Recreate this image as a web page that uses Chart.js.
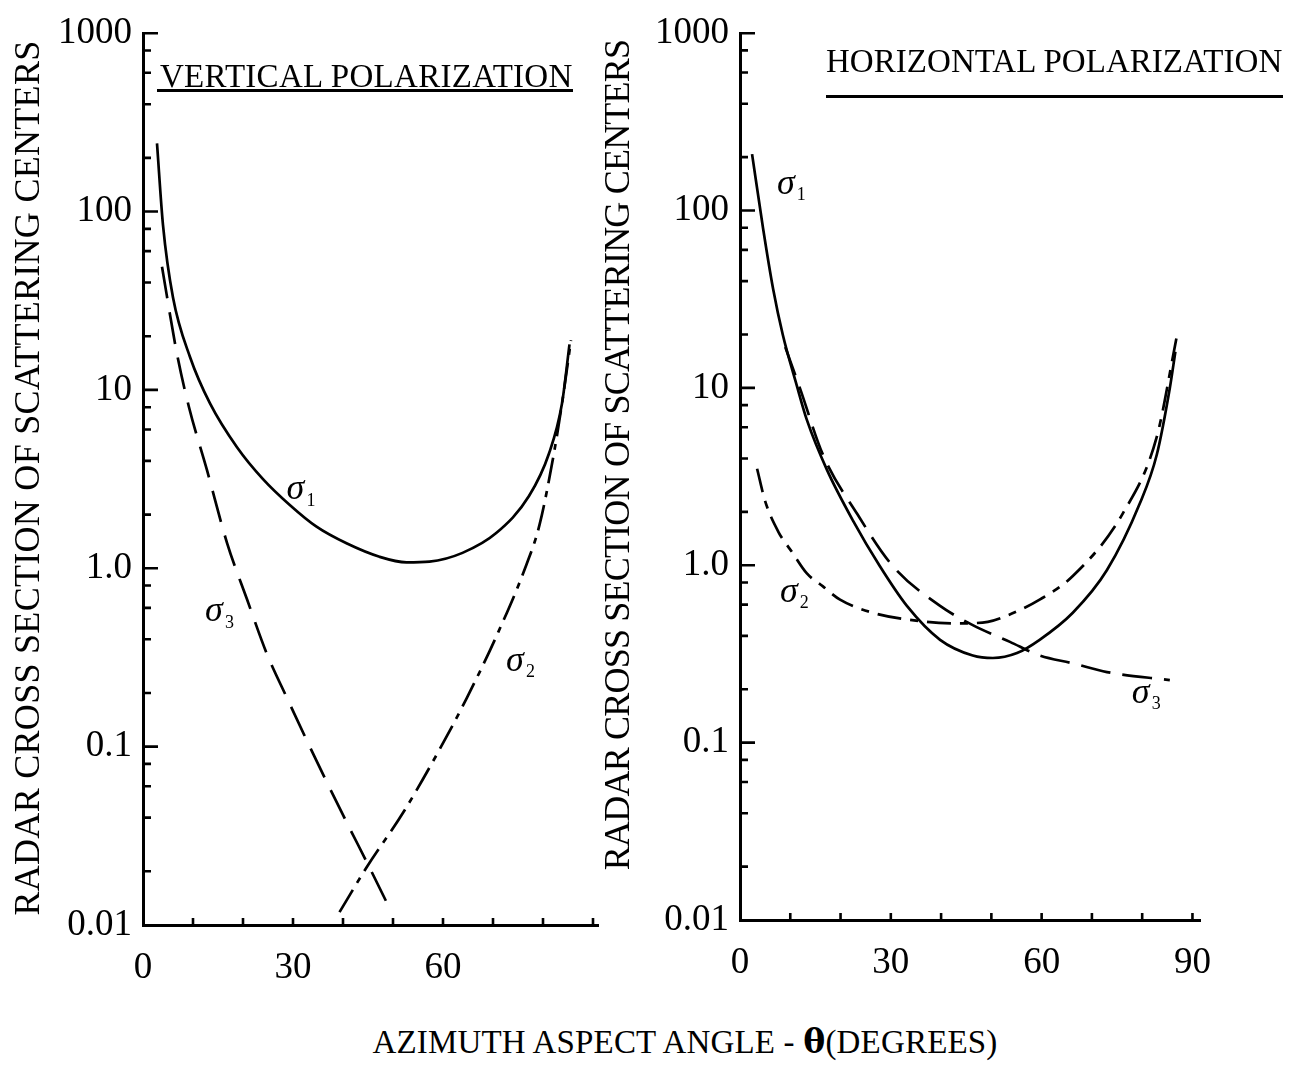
<!DOCTYPE html>
<html>
<head>
<meta charset="utf-8">
<script src="https://cdn.jsdelivr.net/npm/chart.js@4/dist/chart.umd.min.js"></script>
<style>
  html,body{margin:0;padding:0;background:#fff;}
  body{width:1293px;height:1066px;position:relative;overflow:hidden;}
  .box{position:absolute;}
  .txt{position:absolute;font-family:'Liberation Serif',serif;color:#000;white-space:nowrap;}
  .rule{position:absolute;background:#000;height:3px;}
</style>
</head>
<body>
<div class="box" style="left:0;top:0;width:640px;height:1000px"><canvas id="left"></canvas></div>
<div class="box" style="left:640px;top:0;width:653px;height:1000px"><canvas id="right"></canvas></div>

<div class="txt" style="left:160px;top:58px;font-size:33px;line-height:36px"><span class="fit" data-w="413">VERTICAL POLARIZATION</span></div>
<div class="rule" style="left:157px;top:89px;width:416px"></div>
<div class="txt" style="left:826px;top:43px;font-size:33px;line-height:36px"><span class="fit" data-w="456">HORIZONTAL POLARIZATION</span></div>
<div class="rule" style="left:826px;top:95px;width:457px"></div>

<div class="txt" style="left:-423px;top:458px;width:900px;height:40px;line-height:40px;text-align:center;font-size:36px;transform:rotate(-90deg)"><span class="fit" data-w="875">RADAR CROSS SECTION OF SCATTERING CENTERS</span></div>
<div class="txt" style="left:167px;top:435px;width:900px;height:40px;line-height:40px;text-align:center;font-size:36px;transform:rotate(-90deg)"><span class="fit" data-w="830">RADAR CROSS SECTION OF SCATTERING CENTERS</span></div>

<div class="txt" style="left:285px;top:1024px;width:800px;text-align:center;font-size:33px;line-height:36px"><span class="fit" data-w="625">AZIMUTH ASPECT ANGLE - <b style="font-family:'DejaVu Serif'">θ</b>(DEGREES)</span></div>

<script>
// ---------- data ----------
// Left panel: vertical polarization
const vS1x = [2.8, 4.0, 6.0, 9.4, 13.4, 18.8, 24.0, 29.3, 34.7, 40.7, 47.3, 52.7, 57.3, 63.9, 70.7, 77.2, 81.2, 83.8, 85.3];
const vS1y = [241, 84, 33, 15.3, 8.4, 4.77, 3.16, 2.27, 1.71, 1.38, 1.16, 1.08, 1.09, 1.22, 1.58, 2.54, 4.4, 8.4, 18];
const vS2x = [39.3, 44.7, 52.1, 59.1, 64.7, 70.7, 76.7, 79.3, 82.3, 83.8, 85.6];
const vS2y = [0.0118, 0.021, 0.043, 0.094, 0.186, 0.417, 1.05, 1.75, 4.6, 8.4, 19];
const vS3x = [3.8, 6.8, 9.2, 12.8, 16.8, 20.8, 24.8, 28.7, 35, 41.3, 44.7, 49.7];
const vS3y = [49, 15.9, 8.0, 3.55, 1.39, 0.67, 0.33, 0.19, 0.08, 0.035, 0.0227, 0.0118];
// Right panel: horizontal polarization
const hS1x = [2.4, 4.6, 6.6, 8.5, 11.3, 13.3, 17.3, 22.5, 27.8, 33.2, 39.8, 46.3, 50.3, 55.1, 59.6, 66.2, 73.0, 79.5, 82.9, 85.5, 86.6];
const hS1y = [208, 79, 36, 20, 10.3, 6.6, 3.45, 1.78, 0.99, 0.59, 0.38, 0.31, 0.30, 0.32, 0.38, 0.54, 0.94, 2.22, 4.2, 10, 16];
const hS2x = [3.4, 5.0, 7.6, 10.5, 13.3, 16.5, 19.9, 26.4, 37.2, 43.1, 49.3, 53.1, 59.6, 66.2, 76.1, 82.9, 86.8];
const hS2y = [3.5, 2.3, 1.55, 1.17, 0.90, 0.76, 0.64, 0.54, 0.48, 0.47, 0.48, 0.52, 0.64, 0.87, 1.95, 5.3, 19];
const hS3x = [9.0, 11.9, 16.5, 23.3, 30.4, 39.8, 46.3, 53.7, 59.6, 66.2, 73.0, 85.5];
const hS3y = [17, 10, 4.2, 1.95, 0.99, 0.59, 0.46, 0.37, 0.31, 0.28, 0.25, 0.225];

// ticks
const yTickValues = [0.01, 0.1, 1, 10, 100, 1000];
const yTickLabels = ['0.01', '0.1', '1.0', '10', '100', '1000'];
const yMinorMultipliers = [2, 4, 6, 8];
const xMinorTicks = [10, 20, 30, 40, 50, 60, 70, 80, 90];
const xLabelTicksLeft = [0, 30, 60];
const xLabelTicksRight = [0, 30, 60, 90];

// curve labels (sigma + subscript) at data positions
const leftLabels = [{x:31.3, y:2.75, sub:'1'}, {x:15, y:0.57, sub:'3'}, {x:75.2, y:0.30, sub:'2'}];
const rightLabels = [{x:9.9, y:140, sub:'1'}, {x:10.5, y:0.70, sub:'2'}, {x:80.5, y:0.19, sub:'3'}];

// ---------- helpers ----------
const pts = (xs, ys) => xs.map((x, i) => ({x, y: ys[i]}));

const insideTicks = {
  id: 'insideTicks',
  afterDraw(chart) {
    const {ctx, chartArea: a, scales: {x, y}} = chart;
    ctx.save();
    ctx.strokeStyle = '#000';
    ctx.lineWidth = 2.6;
    ctx.beginPath();
    yTickValues.forEach(v => {
      if (v <= 0.01) return;
      const py = y.getPixelForValue(v);
      ctx.moveTo(a.left, py); ctx.lineTo(a.left + 15, py);
    });
    yTickValues.slice(0, -1).forEach(d => {
      yMinorMultipliers.forEach(m => {
        const py = y.getPixelForValue(d * m);
        ctx.moveTo(a.left, py); ctx.lineTo(a.left + 8, py);
      });
    });
    xMinorTicks.forEach(v => {
      const px = x.getPixelForValue(v);
      ctx.moveTo(px, a.bottom); ctx.lineTo(px, a.bottom - 7);
    });
    ctx.stroke();
    ctx.restore();
  }
};

const sigmaLabels = {
  id: 'sigmaLabels',
  afterDatasetsDraw(chart, args, opts) {
    const {ctx, scales: {x, y}} = chart;
    ctx.save();
    ctx.fillStyle = '#000';
    (opts.items || []).forEach(it => {
      const px = x.getPixelForValue(it.x), py = y.getPixelForValue(it.y);
      ctx.font = 'italic 36px "Liberation Serif"';
      ctx.textAlign = 'center';
      ctx.textBaseline = 'middle';
      ctx.fillText('σ', px - 4, py);
      ctx.font = '18px "Liberation Serif"';
      ctx.textAlign = 'left';
      ctx.fillText(it.sub, px + 7, py + 11);
    });
    ctx.restore();
  }
};

function makeChart(id, series, cfg) {
  const ds = series.map(s => ({
    data: s.data,
    borderColor: '#000',
    borderWidth: 2.7,
    borderDash: s.dash,
    pointRadius: 0,
    fill: false,
    cubicInterpolationMode: 'monotone'
  }));
  return new Chart(document.getElementById(id), {
    type: 'line',
    data: {datasets: ds},
    plugins: [insideTicks, sigmaLabels],
    options: {
      responsive: true,
      maintainAspectRatio: false,
      animation: false,
      events: [],
      layout: {padding: {left: 0, top: cfg.top, right: cfg.right, bottom: 0}},
      plugins: {legend: {display: false}, tooltip: {enabled: false}, sigmaLabels: {items: cfg.labels}},
      scales: {
        x: {
          type: 'linear', min: 0, max: cfg.xmax,
          afterBuildTicks: s => { s.ticks = cfg.xLabels.map(v => ({value: v})); },
          afterFit: s => { s.height = cfg.xh; },
          grid: {display: false, drawTicks: false},
          border: {display: true, color: '#000', width: 3},
          ticks: {autoSkip: false, maxRotation: 0, padding: 21, color: '#000',
                  font: {family: 'Liberation Serif', size: 37},
                  callback: v => String(v)}
        },
        y: {
          type: 'logarithmic', min: 0.01, max: 1000,
          afterBuildTicks: s => { s.ticks = yTickValues.map(v => ({value: v})); },
          afterFit: s => { s.width = cfg.yw; },
          grid: {display: false, drawTicks: false},
          border: {display: true, color: '#000', width: 3},
          ticks: {autoSkip: false, padding: 11, color: '#000',
                  font: {family: 'Liberation Serif', size: 37},
                  callback: (v, i) => yTickLabels[i]}
        }
      }
    }
  });
}

makeChart('left', [
  {data: pts(vS1x, vS1y), dash: []},
  {data: pts(vS2x, vS2y), dash: [26, 8, 6, 8]},
  {data: pts(vS3x, vS3y), dash: [32, 14]}
], {top: 27, right: 42, xmax: 91, xh: 75, yw: 143, xLabels: xLabelTicksLeft, labels: leftLabels});

makeChart('right', [
  {data: pts(hS1x, hS1y), dash: []},
  {data: pts(hS2x, hS2y), dash: [24, 9, 8, 9]},
  {data: pts(hS3x, hS3y), dash: [30, 12]}
], {top: 25, right: 93, xmax: 91.5, xh: 80, yw: 100, xLabels: xLabelTicksRight, labels: rightLabels});

// fit the typed titles to the widths they span in the reference
function fitTexts() {
  document.querySelectorAll('.fit').forEach(el => {
    el.style.letterSpacing = '0px';
    const w = el.offsetWidth;
    const n = el.textContent.length;
    const target = parseFloat(el.dataset.w);
    el.style.letterSpacing = ((target - w) / n).toFixed(2) + 'px';
  });
}
fitTexts();
if (document.fonts && document.fonts.ready) document.fonts.ready.then(fitTexts);
</script>
</body>
</html>
